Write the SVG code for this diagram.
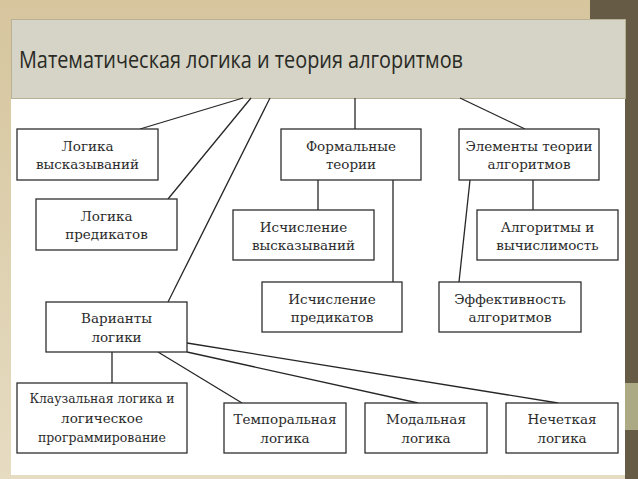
<svg xmlns="http://www.w3.org/2000/svg" width="638" height="479" viewBox="0 0 638 479">
<style>
.box{fill:#ffffff;stroke:#2e2e2e;stroke-width:1.3}
.con line{stroke:#262626;stroke-width:1.3}
</style>
<defs>
<linearGradient id="bg" x1="0" y1="0" x2="0" y2="1">
<stop offset="0" stop-color="#d6c59d"/>
<stop offset="1" stop-color="#e6dcc2"/>
</linearGradient>
</defs>
<rect x="0" y="0" width="638" height="479" fill="url(#bg)"/>
<rect x="11" y="98" width="614" height="377" fill="#ffffff"/>
<rect x="590" y="0" width="48" height="19" fill="#665c45"/>
<rect x="625" y="19" width="13" height="460" fill="#665c45"/>
<rect x="625" y="383" width="13" height="47" fill="#aca985"/>
<rect id="title-band" x="11.5" y="19.5" width="614" height="79" fill="#d5d4c6" stroke="#b9b196" stroke-width="1"/>
<text x="19" y="68" font-family="'Open Sans','Noto Sans',sans-serif" font-size="23" fill="#2a2a25" textLength="444" lengthAdjust="spacingAndGlyphs">Математическая логика и теория алгоритмов</text>
<g id="connectors" class="con">
<line x1="243" y1="98" x2="140" y2="129"/>
<line x1="251" y1="98" x2="168" y2="199"/>
<line x1="270" y1="98" x2="168" y2="302"/>
<line x1="355" y1="98" x2="355" y2="129"/>
<line x1="460" y1="98" x2="525" y2="129"/>
<line x1="318" y1="180" x2="318" y2="210"/>
<line x1="393" y1="180" x2="393" y2="282"/>
<line x1="533" y1="180" x2="533" y2="210"/>
<line x1="470" y1="180" x2="459" y2="282"/>
<line x1="112" y1="352" x2="112" y2="383"/>
<line x1="158" y1="352" x2="242" y2="403"/>
<line x1="187" y1="352" x2="418" y2="403"/>
<line x1="187" y1="343" x2="558" y2="403"/>
</g>
<g font-family="'DejaVu Serif',serif" font-size="13.5" fill="#2b2b2b" text-anchor="middle">
<g id="n-logic-statements"><rect class="box" x="17" y="129" width="141" height="51"/><text x="87.5" y="151">Логика</text><text x="87.5" y="169">высказываний</text></g>
<g id="n-logic-predicates"><rect class="box" x="36" y="199" width="141" height="51"/><text x="106.5" y="221">Логика</text><text x="106.5" y="239">предикатов</text></g>
<g id="n-formal"><rect class="box" x="281" y="129" width="140" height="51"/><text x="351" y="151">Формальные</text><text x="351" y="169">теории</text></g>
<g id="n-elements"><rect class="box" x="459" y="129" width="140" height="51"/><text x="529" y="151">Элементы теории</text><text x="529" y="169">алгоритмов</text></g>
<g id="n-calc-statements"><rect class="box" x="233" y="210" width="141" height="50"/><text x="303.5" y="232">Исчисление</text><text x="303.5" y="250">высказываний</text></g>
<g id="n-algorithms"><rect class="box" x="477" y="210" width="141" height="50"/><text x="547.5" y="232">Алгоритмы и</text><text x="547.5" y="250">вычислимость</text></g>
<g id="n-calc-predicates"><rect class="box" x="262" y="282" width="140" height="50"/><text x="332" y="304">Исчисление</text><text x="332" y="322">предикатов</text></g>
<g id="n-efficiency"><rect class="box" x="439" y="282" width="142" height="50"/><text x="510" y="304">Эффективность</text><text x="510" y="322">алгоритмов</text></g>
<g id="n-variants"><rect class="box" x="46" y="302" width="141" height="50"/><text x="116.5" y="323">Варианты</text><text x="116.5" y="342">логики</text></g>
<g id="n-clausal"><rect class="box" x="17" y="383" width="170" height="70"/><text x="102" y="403" textLength="145" lengthAdjust="spacingAndGlyphs">Клаузальная логика и</text><text x="102" y="423">логическое</text><text x="102" y="442" textLength="128" lengthAdjust="spacingAndGlyphs">программирование</text></g>
<g id="n-temporal"><rect class="box" x="224" y="403" width="122" height="50"/><text x="285" y="424">Темпоральная</text><text x="285" y="443">логика</text></g>
<g id="n-modal"><rect class="box" x="365" y="403" width="122" height="50"/><text x="426" y="424">Модальная</text><text x="426" y="443">логика</text></g>
<g id="n-fuzzy"><rect class="box" x="506" y="403" width="112" height="50"/><text x="562" y="424">Нечеткая</text><text x="562" y="443">логика</text></g>
</g>
</svg>
